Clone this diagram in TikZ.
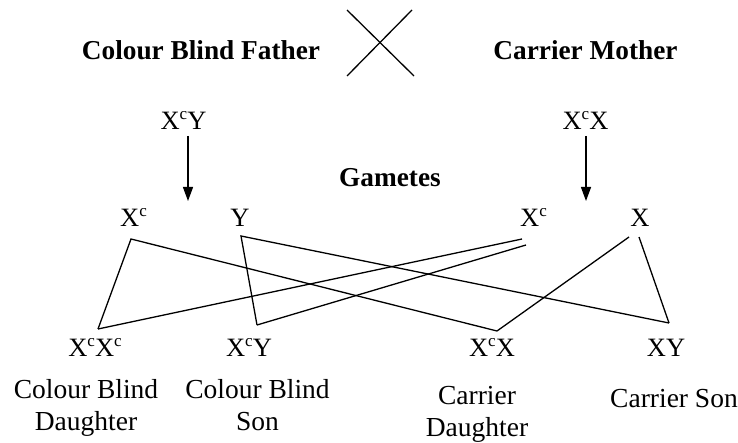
\documentclass[tikz,border=0pt]{standalone}
\usepackage{fontspec}
\setmainfont{Liberation Serif}
\usetikzlibrary{arrows.meta}
\newcommand\supc{\raisebox{10bp}{\fontsize{17bp}{17bp}\selectfont c}}
\tikzset{
  title/.style={font=\fontsize{27.3bp}{30bp}\selectfont\bfseries, anchor=base, inner sep=0pt},
  gene/.style={font=\fontsize{26.5bp}{30bp}\selectfont, anchor=base, inner sep=0pt},
  desc/.style={font=\fontsize{27.5bp}{32bp}\selectfont, anchor=base, inner sep=0pt, align=center},
  link/.style={line width=1.3bp, line join=miter},
  arr/.style={line width=1.3bp, -{Triangle[length=14bp,width=10bp]}},
}
\begin{document}
\begin{tikzpicture}[x=1bp,y=-1bp]
\useasboundingbox (0,0) rectangle (738,443);
% parents
\node[title] (father) at (201,60) {Colour Blind Father};
\node[title] (mother) at (585.5,60) {Carrier Mother};
\coordinate (c1) at (347,10); \coordinate (c2) at (414,76);
\coordinate (c3) at (412,10); \coordinate (c4) at (347,76);
\draw[link] (c1) -- (c2);
\draw[link] (c3) -- (c4);
% genotypes
\node[gene] (fg) at (183.5,130) {X\supc Y};
\node[gene] (mg) at (585.5,130) {X\supc X};
\coordinate (a1s) at (188,136); \coordinate (a1e) at (188,201);
\coordinate (a2s) at (586,136); \coordinate (a2e) at (586,201);
\draw[arr] (a1s) -- (a1e);
\draw[arr] (a2s) -- (a2e);
\node[title] (gam) at (390,187) {Gametes};
% gametes
\node[gene] (g1) at (133.5,227) {X\supc};
\node[gene] (g2) at (240,227) {Y};
\node[gene] (g3) at (533.5,227) {X\supc};
\node[gene] (g4) at (640,227) {X};
% offspring
\node[gene] (o1) at (95,357) {X\supc X\supc};
\node[gene] (o2) at (249,357) {X\supc Y};
\node[gene] (o3) at (492,357) {X\supc X};
\node[gene] (o4) at (666,357) {XY};
\node[desc] (l1) at (86,430) {Colour Blind\\Daughter};
\node[desc] (l2) at (257.5,430) {Colour Blind\\Son};
\node[desc] (l3) at (477,436.5) {Carrier\\Daughter};
\node[desc] (l4) at (674,407) {Carrier Son};
% line ends
\coordinate (p1) at (131,239);
\coordinate (p2) at (241,236);
\coordinate (p3a) at (522,239);
\coordinate (p3b) at (526,245);
\coordinate (p4a) at (629,237);
\coordinate (p4b) at (639,237);
\coordinate (q1) at (98,329);
\coordinate (q2) at (257,325);
\coordinate (q3) at (497,331);
\coordinate (q4) at (669,323);
\draw[link] (q1) -- (p1) -- (q3);
\draw[link] (q2) -- (p2) -- (q4);
\draw[link] (p3a) -- (q1);
\draw[link] (p3b) -- (q2);
\draw[link] (p4a) -- (q3);
\draw[link] (p4b) -- (q4);
\end{tikzpicture}
\end{document}
